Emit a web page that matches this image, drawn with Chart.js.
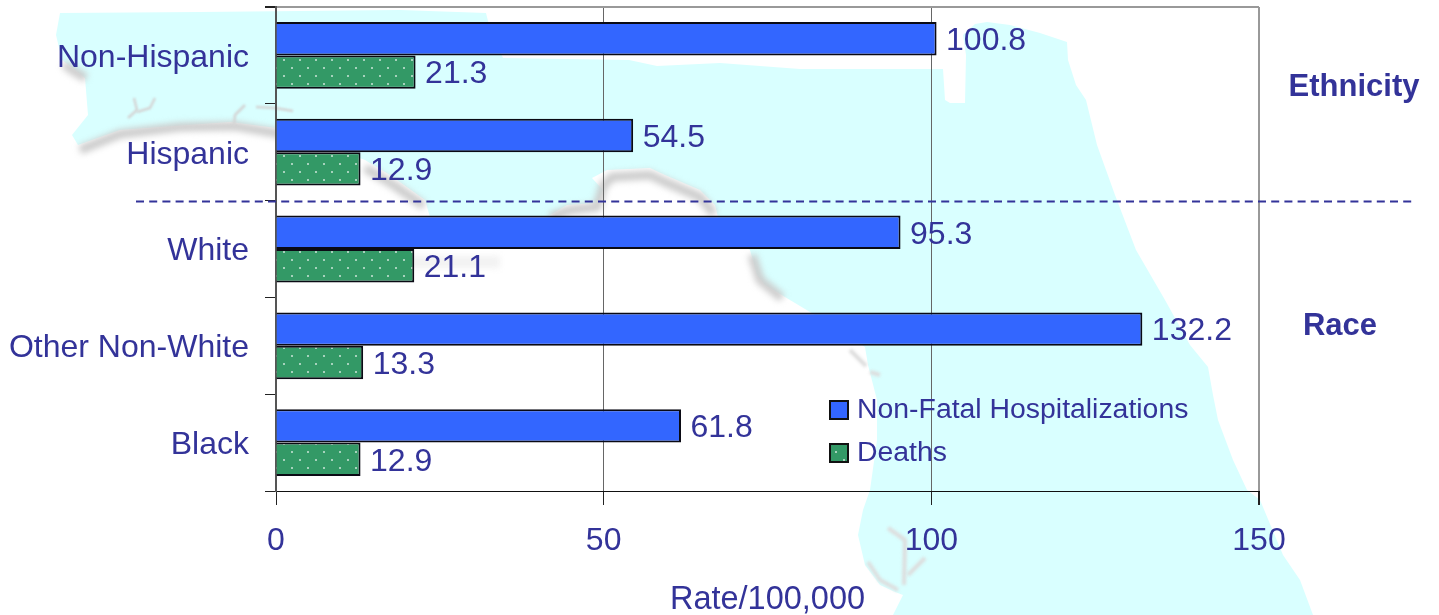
<!DOCTYPE html>
<html>
<head>
<meta charset="utf-8">
<title>Rate/100,000</title>
<script src="https://cdn.jsdelivr.net/npm/chart.js@4/dist/chart.umd.min.js"></script>
<style>
  html, body { margin: 0; padding: 0; background: #fff; overflow: hidden; }
  canvas { display: block; }
</style>
</head>
<body>
<canvas id="chart" width="1439" height="615"></canvas>
<script>
const categories = ['Non-Hispanic', 'Hispanic', 'White', 'Other Non-White', 'Black'];
const hospitalizations = [100.8, 54.5, 95.3, 132.2, 61.8];
const deaths = [21.3, 12.9, 21.1, 13.3, 12.9];
const seriesNames = ['Non-Fatal Hospitalizations', 'Deaths'];
const groupLabels = ['Ethnicity', 'Race'];
const xTicks = [0, 50, 100, 150];

const TEXT = '#333399';
const FONT = '"Liberation Sans", Arial, sans-serif';

// white dots on green, same as the legend swatch
function dotPattern() {
  const c = document.createElement('canvas');
  c.width = 16;
  c.height = 16;
  const g = c.getContext('2d');
  g.fillStyle = '#339966';
  g.fillRect(0, 0, 16, 16);
  g.fillStyle = '#ffffff';
  g.fillRect(3.25, 3.25, 1.5, 1.5);
  g.fillRect(11.25, 11.25, 1.5, 1.5);
  return g.createPattern(c, 'repeat');
}

// florida outline behind the plot, page pixels
const landOutline = [
  [60,13],[200,12],[400,10],[486,13],[489,25],[503,58],[629,60],[657,66],[720,63],[800,69],[943,69],
  [945,100],[950,103],[965,103],[966,55],[963,35],[975,24],[987,22],[1010,25],[1040,33],[1067,42],
  [1068,60],[1076,85],[1086,100],[1097,145],[1115,195],[1136,250],[1165,300],[1190,345],[1208,367],
  [1213,395],[1218,420],[1233,460],[1247,490],[1260,500],[1283,555],[1300,580],[1313,615],
  [893,615],[903,595],[895,592],[880,585],[865,565],[858,535],[863,510],[870,490],[877,440],[877,400],
  [868,365],[865,347],[810,312],[790,300],[765,285],[757,275],[750,250],[718,217],[715,205],[700,190],
  [665,175],[650,168],[607,170],[592,178],[603,190],[597,203],[567,205],[547,217],[430,217],[425,200],
  [390,175],[365,160],[276,128],[230,122],[120,130],[78,145],[72,135],[88,115],[85,78],[62,60],[56,35]
];
const shadeLines = [
  [[80,150],[120,134],[180,127],[235,126],[276,133],[300,140]],
  [[64,64],[72,70],[86,78]],
  [[365,168],[392,184],[424,206]],
  [[550,217],[570,210],[597,207],[603,186],[612,177],[650,175],[665,182],[700,197],[714,214]],
  [[752,255],[760,280],[782,298]]
];
const smallShades = [
  [[850,350],[866,366]],
  [[870,372],[880,375]],
  [[888,528],[905,540],[904,585]],
  [[868,562],[880,580],[898,590]],
  [[925,558],[908,575]]
];
const faintShade = [[300,255],[400,262],[500,262]];
const inletLines = [
  [[134,98],[137,110],[128,118]], [[155,98],[150,108],[137,112]],
  [[245,105],[235,115],[234,125]], [[256,107],[275,108],[293,111]]
];

const mapBackground = {
  id: 'mapBackground',
  beforeDraw(chart) {
    const ctx = chart.ctx;
    ctx.save();
    ctx.fillStyle = '#ffffff';
    ctx.fillRect(0, 0, chart.width, chart.height);
    ctx.fillStyle = '#d9ffff';
    ctx.beginPath();
    landOutline.forEach((p, i) => i ? ctx.lineTo(p[0], p[1]) : ctx.moveTo(p[0], p[1]));
    ctx.closePath();
    ctx.fill();

    ctx.lineJoin = 'round';
    ctx.filter = 'blur(3px)';
    ctx.strokeStyle = '#cccccc';
    ctx.lineWidth = 9;
    shadeLines.forEach(line => strokeLine(ctx, line));
    ctx.strokeStyle = '#f2f2f2';
    ctx.lineWidth = 12;
    strokeLine(ctx, faintShade);
    ctx.filter = 'blur(1.5px)';
    ctx.strokeStyle = '#dddddd';
    ctx.lineWidth = 4;
    smallShades.forEach(line => strokeLine(ctx, line));
    ctx.filter = 'blur(0.8px)';
    ctx.lineWidth = 2.5;
    ctx.strokeStyle = '#d4d4d4';
    inletLines.forEach(line => strokeLine(ctx, line));
    ctx.restore();
  }
};

function strokeLine(ctx, line) {
  ctx.beginPath();
  line.forEach((p, i) => i ? ctx.lineTo(p[0], p[1]) : ctx.moveTo(p[0], p[1]));
  ctx.stroke();
}

const barValues = {
  id: 'barValues',
  afterDatasetsDraw(chart) {
    const ctx = chart.ctx;
    ctx.save();
    ctx.fillStyle = TEXT;
    ctx.font = '32px ' + FONT;
    ctx.textAlign = 'left';
    ctx.textBaseline = 'middle';
    chart.data.datasets.forEach((ds, d) => {
      chart.getDatasetMeta(d).data.forEach((bar, i) => {
        ctx.fillText(ds.data[i].toFixed(1), bar.x + 9.5, bar.y + 2.5);
      });
    });
    ctx.restore();
  }
};

const annotations = {
  id: 'annotations',
  afterDraw(chart) {
    const ctx = chart.ctx;
    const y = chart.scales.y.getPixelForValue(1.5);
    ctx.save();
    // divider between ethnicity and race
    ctx.strokeStyle = TEXT;
    ctx.lineWidth = 2;
    ctx.setLineDash([8, 5.2]);
    ctx.beginPath();
    ctx.moveTo(136, Math.round(y) + 0.5);
    ctx.lineTo(1415, Math.round(y) + 0.5);
    ctx.stroke();
    ctx.setLineDash([]);

    ctx.fillStyle = TEXT;
    ctx.font = 'bold 31px ' + FONT;
    ctx.textAlign = 'center';
    ctx.textBaseline = 'middle';
    ctx.fillText(groupLabels[0], 1354, 87);
    ctx.fillText(groupLabels[1], 1340, 326);

    // legend
    const swatchY = [401, 444];
    ctx.font = '28.4px ' + FONT;
    ctx.textAlign = 'left';
    chart.data.datasets.forEach((ds, i) => {
      ctx.fillStyle = ds.backgroundColor;
      ctx.fillRect(830, swatchY[i], 18, 18);
      ctx.strokeStyle = '#111111';
      ctx.lineWidth = 2;
      ctx.strokeRect(830, swatchY[i], 18, 18);
      ctx.fillStyle = TEXT;
      ctx.fillText(ds.label, 857, swatchY[i] + 9);
    });
    ctx.restore();
  }
};

// plot box is pinned, so tick label overhang must not shrink it
function noPadding(scale) {
  scale.paddingTop = 0;
  scale.paddingBottom = 0;
  scale.paddingLeft = 0;
  scale.paddingRight = 0;
}

new Chart(document.getElementById('chart'), {
  type: 'bar',
  data: {
    labels: categories,
    datasets: [
      { label: seriesNames[0], data: hospitalizations, backgroundColor: '#3366ff', borderColor: '#0a0a14', borderWidth: 2 },
      { label: seriesNames[1], data: deaths, backgroundColor: dotPattern(), borderColor: '#0a0a14', borderWidth: 2 }
    ]
  },
  options: {
    indexAxis: 'y',
    responsive: false,
    animation: false,
    devicePixelRatio: 1,
    layout: { autoPadding: false, padding: { top: 7, right: 180, left: 0, bottom: 0 } },
    datasets: { bar: { categoryPercentage: 0.69, barPercentage: 1 } },
    plugins: {
      legend: { display: false },
      tooltip: { enabled: false }
    },
    scales: {
      x: {
        min: 0,
        max: 150,
        afterBuildTicks(scale) { scale.ticks = xTicks.map(v => ({ value: v })); },
        afterFit(scale) { scale.height = 124; noPadding(scale); },
        border: { color: '#111111', width: 1 },
        grid: {
          tickLength: 14,
          tickColor: '#222222',
          color: c => c.tick.value === 150 ? '#999999' : '#666666',
          lineWidth: c => c.tick.value === 150 ? 2 : 1
        },
        ticks: {
          color: TEXT,
          padding: 17,
          maxRotation: 0,
          font: { family: FONT, size: 32 }
        },
        title: {
          display: true,
          text: 'Rate/100,000',
          color: TEXT,
          font: { family: FONT, size: 32.5, lineHeight: 1 },
          padding: { top: 0, bottom: -1 }
        }
      },
      y: {
        afterFit(scale) { scale.width = 276; noPadding(scale); },
        border: { color: '#555555', width: 2 },
        grid: {
          tickLength: 11,
          tickColor: '#222222',
          color: c => c.index === 0 ? '#999999' : 'rgba(0,0,0,0)',
          lineWidth: c => c.index === 0 ? 2 : 1
        },
        ticks: {
          color: TEXT,
          padding: 16,
          labelOffset: 2.5,
          autoSkip: false,
          font: { family: FONT, size: 32 }
        }
      }
    }
  },
  plugins: [mapBackground, barValues, annotations]
});
</script>
</body>
</html>
